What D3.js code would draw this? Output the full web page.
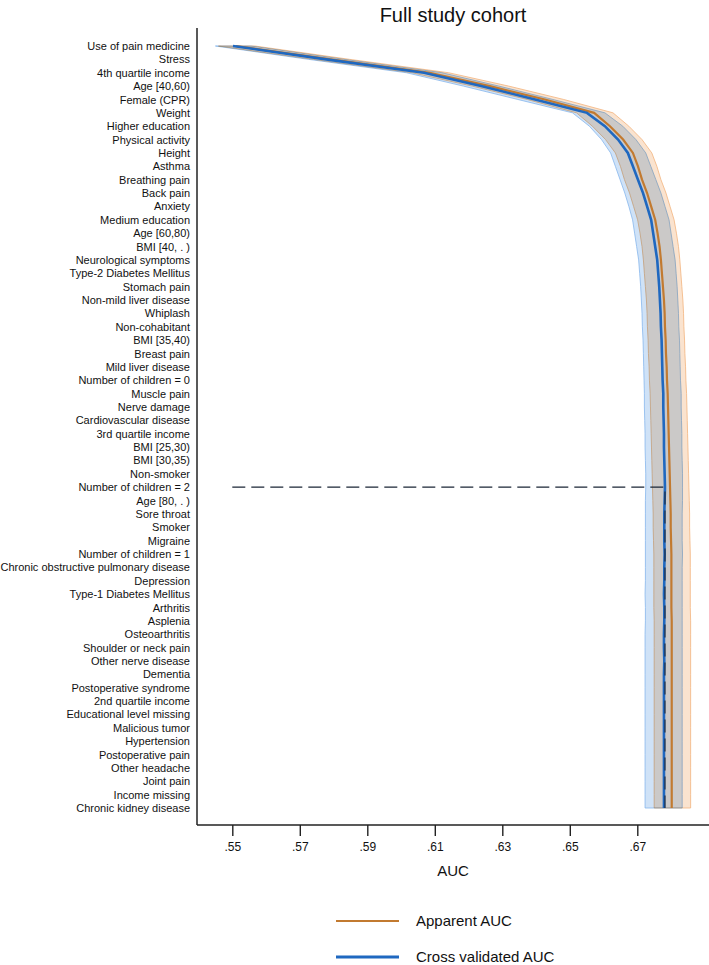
<!DOCTYPE html>
<html>
<head>
<meta charset="utf-8">
<script src="https://cdn.jsdelivr.net/npm/d3@7"></script>
<style>
  body { margin: 0; background: #fff; }
  svg { display: block; font-family: "Liberation Sans", Arial, sans-serif; }
</style>
</head>
<body>
<svg id="chart" width="709" height="965"></svg>
<script>
const predictors = [
  "Use of pain medicine","Stress","4th quartile income","Age [40,60)","Female (CPR)","Weight",
  "Higher education","Physical activity","Height","Asthma","Breathing pain","Back pain","Anxiety",
  "Medium education","Age [60,80)","BMI [40, . )","Neurological symptoms","Type-2 Diabetes Mellitus",
  "Stomach pain","Non-mild liver disease","Whiplash","Non-cohabitant","BMI [35,40)","Breast pain",
  "Mild liver disease","Number of children = 0","Muscle pain","Nerve damage","Cardiovascular disease",
  "3rd quartile income","BMI [25,30)","BMI [30,35)","Non-smoker","Number of children = 2","Age [80, . )",
  "Sore throat","Smoker","Migraine","Number of children = 1","Chronic obstructive pulmonary disease",
  "Depression","Type-1 Diabetes Mellitus","Arthritis","Asplenia","Osteoarthritis","Shoulder or neck pain",
  "Other nerve disease","Dementia","Postoperative syndrome","2nd quartile income","Educational level missing",
  "Malicious tumor","Hypertension","Postoperative pain","Other headache","Joint pain","Income missing",
  "Chronic kidney disease"
];

const cvAUC = [
  .5502,.5778,.6068,.6237,.6397,.6551,.6604,.6643,.6672,.6687,.6702,.6717,.6729,.6741,.6747,.6753,
  .6759,.6762,.6765,.6767,.6769,.6770,.6772,.6773,.6774,.6775,.6777,.6777,.6778,.6779,.6779,.6780,
  .6781,.6782,.6781,.6780,.6780,.6780,.6781,.6780,.6780,.6779,.6780,.6780,.6779,.6779,.6780,.6779,
  .6779,.6779,.6779,.6779,.6779,.6779,.6779,.6779,.6779,.6779
];
const cvLower = [
  .5450,.5726,.6016,.6185,.6346,.6508,.6558,.6594,.6621,.6635,.6649,.6663,.6675,.6686,.6692,.6698,
  .6704,.6707,.6710,.6712,.6714,.6715,.6717,.6718,.6719,.6720,.6721,.6721,.6722,.6723,.6723,.6724,
  .6725,.6725,.6724,.6724,.6724,.6724,.6724,.6724,.6724,.6723,.6724,.6724,.6723,.6723,.6723,.6723,
  .6723,.6723,.6723,.6723,.6723,.6723,.6723,.6723,.6723,.6723
];
const cvUpper = [
  .5555,.5831,.6121,.6290,.6450,.6604,.6657,.6696,.6725,.6740,.6755,.6770,.6782,.6794,.6800,.6806,
  .6812,.6815,.6818,.6820,.6822,.6823,.6825,.6826,.6827,.6828,.6830,.6830,.6831,.6832,.6832,.6833,
  .6834,.6834,.6834,.6833,.6833,.6833,.6834,.6833,.6833,.6833,.6833,.6833,.6833,.6833,.6833,.6833,
  .6833,.6833,.6833,.6833,.6833,.6833,.6833,.6833,.6833,.6833
];
const appAUC = [
  .5511,.5792,.6085,.6263,.6426,.6572,.6619,.6658,.6687,.6702,.6714,.6729,.6741,.6753,.6760,.6766,
  .6770,.6773,.6776,.6779,.6781,.6782,.6784,.6785,.6787,.6788,.6790,.6791,.6792,.6793,.6794,.6795,
  .6796,.6797,.6798,.6799,.6799,.6800,.6801,.6801,.6801,.6801,.6801,.6802,.6802,.6802,.6802,.6802,
  .6802,.6802,.6802,.6802,.6802,.6802,.6802,.6802,.6802,.6802
];
const appLower = [
  .5459,.5740,.6033,.6211,.6374,.6520,.6567,.6606,.6635,.6650,.6662,.6677,.6689,.6701,.6708,.6714,
  .6718,.6721,.6724,.6727,.6729,.6730,.6732,.6733,.6735,.6736,.6738,.6739,.6740,.6741,.6742,.6743,
  .6744,.6745,.6746,.6747,.6747,.6748,.6749,.6749,.6749,.6749,.6749,.6750,.6750,.6750,.6750,.6750,
  .6750,.6750,.6750,.6750,.6750,.6750,.6750,.6750,.6750,.6750
];
const appUpper = [
  .5567,.5848,.6141,.6319,.6482,.6628,.6675,.6714,.6743,.6758,.6770,.6785,.6797,.6809,.6816,.6822,
  .6826,.6829,.6832,.6835,.6837,.6838,.6840,.6841,.6843,.6844,.6846,.6847,.6848,.6849,.6850,.6851,
  .6852,.6853,.6854,.6855,.6855,.6856,.6857,.6857,.6857,.6857,.6857,.6858,.6858,.6858,.6858,.6858,
  .6858,.6858,.6858,.6858,.6858,.6858,.6858,.6858,.6858,.6858
];
const xTicks = [.55,.57,.59,.61,.63,.65,.67];
const title = "Full study cohort";
const xTitle = "AUC";
const legendLabels = ["Apparent AUC","Cross validated AUC"];

const svg = d3.select("#chart");
const plotL = 197, plotR = 709, plotT = 28, plotB = 825;

const x = d3.scaleLinear().domain([.55, .67]).range([232.3, 637.3]);
const y = d3.scalePoint().domain(predictors).range([46, 808]);

const cBlue = "#1f68c0", cOrange = "#c27a30";

const rows = predictors.map((p, i) => ({
  p, cv: cvAUC[i], cl: cvLower[i], cu: cvUpper[i], ap: appAUC[i], al: appLower[i], au: appUpper[i]
}));

// Bands
const bandG = svg.append("g").style("isolation", "isolate");
bandG.append("path")
  .datum(rows)
  .attr("d", d3.area().y(d => y(d.p)).x0(d => x(d.cl)).x1(d => x(d.cu)))
  .attr("fill", "#cfe2f7")
  .attr("stroke", "#86b6ec").attr("stroke-width", 0.8);
bandG.append("path")
  .datum(rows)
  .attr("d", d3.area().y(d => y(d.p)).x0(d => x(d.al)).x1(d => x(d.au)))
  .attr("fill", "#fae3cf")
  .attr("stroke", "#f2b47e").attr("stroke-width", 0.8)
  .style("mix-blend-mode", "multiply");

// Lines
svg.append("path").datum(rows)
  .attr("d", d3.line().y(d => y(d.p)).x(d => x(d.ap)))
  .attr("fill", "none").attr("stroke", cOrange).attr("stroke-width", 2.2);
svg.append("path").datum(rows)
  .attr("d", d3.line().y(d => y(d.p)).x(d => x(d.cv)))
  .attr("fill", "none").attr("stroke", cBlue).attr("stroke-width", 2.6);

// Dashed marker at max CV AUC
const maxIdx = d3.maxIndex(cvAUC);
const xm = x(cvAUC[maxIdx]);
svg.append("path")
  .attr("d", `M${x(.55)},${y(predictors[maxIdx])}H${xm}V${y(predictors[predictors.length - 1])}`)
  .attr("fill", "none").attr("stroke", "#1b2636").attr("stroke-width", 1.1)
  .attr("stroke-dasharray", "13,6");

// Axes
svg.append("line").attr("x1", plotL).attr("x2", plotL).attr("y1", plotT).attr("y2", plotB)
  .attr("stroke", "#222").attr("stroke-width", 1.5);
svg.append("line").attr("x1", plotL).attr("x2", plotR).attr("y1", plotB).attr("y2", plotB)
  .attr("stroke", "#222").attr("stroke-width", 1.5);

const yAxis = svg.append("g").attr("transform", `translate(${plotL},0)`)
  .call(d3.axisLeft(y).tickSize(0).tickPadding(7));
yAxis.select(".domain").remove();
yAxis.selectAll("text").attr("font-size", 11).attr("fill", "#111")
  .attr("font-family", "Liberation Sans, Arial, sans-serif");

const xAxis = svg.append("g").attr("transform", `translate(0,${plotB})`)
  .call(d3.axisBottom(x).tickValues(xTicks).tickSize(11).tickPadding(6)
    .tickFormat(d => d3.format(".2f")(d).replace(/^0/, "")));
xAxis.select(".domain").remove();
xAxis.selectAll("line").attr("stroke", "#222").attr("stroke-width", 1.4);
xAxis.selectAll("text").attr("font-size", 12).attr("fill", "#111")
  .attr("font-family", "Liberation Sans, Arial, sans-serif");

// Titles
svg.append("text").attr("x", (plotL + plotR) / 2).attr("y", 22).attr("text-anchor", "middle")
  .attr("font-size", 20).attr("fill", "#111").text(title);
svg.append("text").attr("x", (plotL + plotR) / 2).attr("y", 876).attr("text-anchor", "middle")
  .attr("font-size", 15).attr("fill", "#111").text(xTitle);

// Legend
const legend = svg.append("g");
const legColors = [cOrange, cBlue], legW = [2.2, 3], legY = [921, 957];
legendLabels.forEach((t, i) => {
  legend.append("line").attr("x1", 336).attr("x2", 399).attr("y1", legY[i]).attr("y2", legY[i])
    .attr("stroke", legColors[i]).attr("stroke-width", legW[i]);
  legend.append("text").attr("x", 416).attr("y", legY[i]).attr("dy", "0.35em")
    .attr("font-size", 15).attr("fill", "#111").text(t);
});
</script>
</body>
</html>
